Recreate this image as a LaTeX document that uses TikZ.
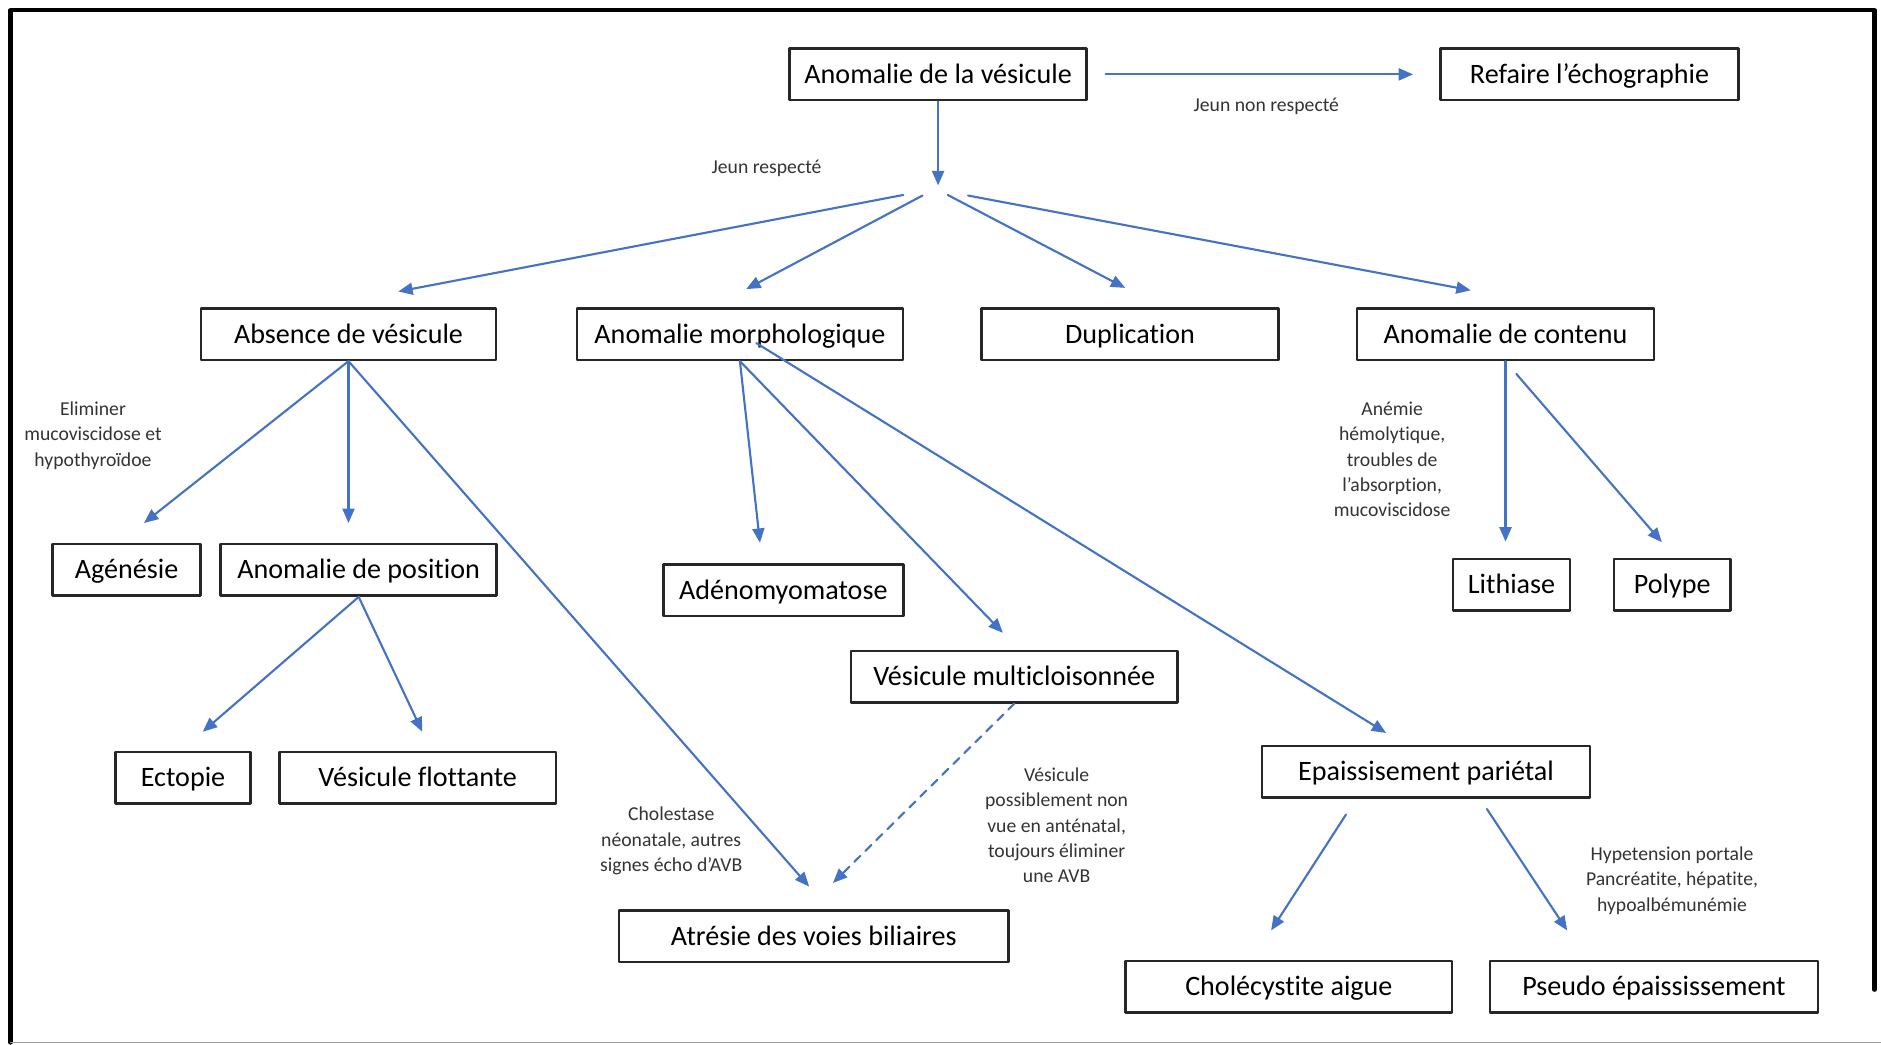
\documentclass[tikz,border=0pt]{standalone}
\usepackage{fontspec}
\setmainfont{Carlito}[Ligatures=NoCommon]
\usetikzlibrary{arrows.meta}
\definecolor{arrowblue}{RGB}{68,114,196}
\tikzset{
	box/.style={draw=black!85, line width=0.9pt, minimum height=0.645cm, inner sep=0pt, text height=7pt, text depth=0.6pt, font=\fontsize{10}{12}\selectfont},
	note/.style={align=center, inner sep=0pt, font=\fontsize{7}{9}\selectfont, text=black!80},
	arr/.style={draw=arrowblue, line width=0.75pt, -{Triangle[length=1.8mm,width=1.5mm]}},
}
\begin{document}
\begin{tikzpicture}[x=1.5cm, y=1.5cm, line join=round, line cap=round]
	\useasboundingbox (0,0) rectangle (15.68,-8.71);
	\draw[line width=1.5pt] (0.088,-8.69) |- (15.625,-0.086) -- (15.625,-8.25);
	\draw[black!40, line width=0.6pt] (0.088,-8.69) -- (15.68,-8.69);
	
	\node[box, minimum width=3.71cm] (main) at (7.82,-0.62) {Anomalie de la vésicule};
	\node[box, minimum width=3.72cm] (redo) at (13.25,-0.62) {Refaire l’échographie};
	\node[box, minimum width=3.69cm] (absence) at (2.905,-2.785) {Absence de vésicule};
	\node[box, minimum width=4.08cm] (morpho) at (6.168,-2.785) {Anomalie morphologique};
	\node[box, minimum width=3.71cm] (dup) at (9.42,-2.785) {Duplication};
	\node[box, minimum width=3.71cm] (contenu) at (12.55,-2.785) {Anomalie de contenu};
	\node[box, minimum width=1.85cm] (agen) at (1.055,-4.75) {Agénésie};
	\node[box, minimum width=3.45cm] (position) at (2.99,-4.75) {Anomalie de position};
	\node[box, minimum width=3.00cm] (adeno) at (6.53,-4.92) {Adénomyomatose};
	\node[box, minimum width=4.08cm] (multi) at (8.455,-5.64) {Vésicule multicloisonnée};
	\node[box, minimum width=1.46cm] (lith) at (12.60,-4.875) {Lithiase};
	\node[box, minimum width=1.46cm] (polype) at (13.94,-4.875) {Polype};
	\node[box, minimum width=1.69cm] (ectopie) at (1.526,-6.485) {Ectopie};
	\node[box, minimum width=3.46cm] (flott) at (3.482,-6.485) {Vésicule flottante};
	\node[box, minimum width=4.10cm] (epaiss) at (11.887,-6.434) {Epaissisement pariétal};
	\node[box, minimum width=4.87cm] (atresie) at (6.784,-7.805) {Atrésie des voies biliaires};
	\node[box, minimum width=4.08cm] (chole) at (10.744,-8.226) {Cholécystite aigue};
	\node[box, minimum width=4.10cm] (pseudo) at (13.787,-8.226) {Pseudo épaississement};
	
	\node[note] (jr) at (6.39,-1.40) {Jeun respecté};
	\node[note] (jnr) at (10.556,-0.89) {Jeun non respecté};
	\node[note] (elim) at (0.775,-3.63) {Eliminer\\mucoviscidose et\\hypothyroïdoe};
	\node[note] (anemie) at (11.605,-3.83) {Anémie\\hémolytique,\\troubles de\\l’absorption,\\mucoviscidose};
	\node[note] (cholest) at (5.595,-7.01) {Cholestase\\néonatale, autres\\signes écho d’AVB};
	\node[note] (nonvue) at (8.808,-6.88) {Vésicule\\possiblement non\\vue en anténatal,\\toujours éliminer\\une AVB};
	\node[note] (hypo) at (13.938,-7.34) {Hypetension portale\\Pancréatite, hépatite,\\hypoalbémunémie};
	
	\path
	(7.82,-1.545) coordinate (split)
	(7.53,-1.625) coordinate (s1)
	(7.69,-1.63) coordinate (s2)
	(7.90,-1.625) coordinate (s3)
	(8.07,-1.63) coordinate (s4)
	(3.32,-2.43) coordinate (e1)
	(6.22,-2.41) coordinate (e2)
	(9.38,-2.40) coordinate (e3)
	(12.26,-2.42) coordinate (e4)
	(1.20,-4.36) coordinate (tagen)
	(2.905,-4.36) coordinate (tpos)
	(6.745,-7.39) coordinate (tatr1)
	(1.69,-6.10) coordinate (tect)
	(3.52,-6.10) coordinate (tflo)
	(6.335,-4.525) coordinate (tadeno)
	(8.36,-5.275) coordinate (tmulti)
	(6.305,-2.86) coordinate (mstart)
	(11.555,-6.11) coordinate (tepa)
	(6.944,-7.36) coordinate (tatr2)
	(12.55,-4.515) coordinate (tlith)
	(12.64,-3.117) coordinate (pstart)
	(13.853,-4.52) coordinate (tpoly)
	(11.22,-6.79) coordinate (c1)
	(10.596,-7.756) coordinate (tchole)
	(12.395,-6.744) coordinate (c2)
	(13.064,-7.756) coordinate (tpseudo)
	;
	
	\draw[arr, shorten <=0.225cm, shorten >=0.33cm] (main) -- (redo);
	\draw[arr] (main.south) -- (split);
	\foreach \a/\b in {s1/e1,s2/e2,s3/e3,s4/e4,absence.south/tagen,absence.south/tpos,absence.south/tatr1,position.south/tect,position.south/tflo,morpho.south/tadeno,morpho.south/tmulti,mstart/tepa,contenu.south/tlith,pstart/tpoly,c1/tchole,c2/tpseudo}
	\draw[arr] (\a) -- (\b);
	\draw[arr, dash pattern=on 3pt off 2.5pt] (multi.south) -- (tatr2);
\end{tikzpicture}
\end{document}
